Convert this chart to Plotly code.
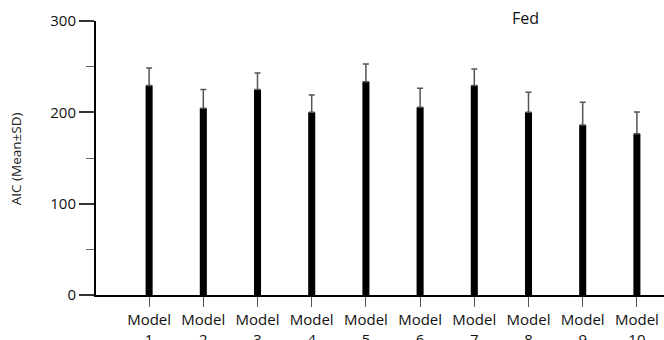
import plotly.graph_objects as go

# AIC (mean ± SD) for each fitted model, fed condition
models = ["Model<br>1", "Model<br>2", "Model<br>3", "Model<br>4", "Model<br>5",
          "Model<br>6", "Model<br>7", "Model<br>8", "Model<br>9", "Model<br>10"]
aic_mean = [229.5, 204.5, 225, 200, 233.5, 205.5, 229.5, 200, 186, 176.5]
aic_sd = [19, 20.5, 18, 19, 19.5, 21, 18, 22, 25, 24]

font_family = "Open Sans, Noto Sans, sans-serif"

fig = go.Figure()
fig.add_trace(go.Bar(
    x=models,
    y=aic_mean,
    width=0.13,
    marker=dict(color="black", line=dict(width=0)),
    # the lower whisker sits inside the black bar, so only the upper one shows
    error_y=dict(type="data", array=aic_sd, arrayminus=[0] * len(aic_sd),
                 symmetric=False, visible=True,
                 color="#555555", thickness=1.5, width=3),
))

fig.update_layout(
    width=664, height=340,
    margin=dict(l=96, r=0, t=21, b=45),
    paper_bgcolor="white", plot_bgcolor="white",
    showlegend=False,
    font=dict(family=font_family, color="#111111"),
    xaxis=dict(
        type="category",
        range=[-0.98, 9.5],
        automargin=False,
        showline=True, linecolor="black", linewidth=2,
        ticks="outside", ticklen=10, tickwidth=1, tickcolor="#555555",
        tickfont=dict(size=15, color="#111111"),
        showgrid=False, zeroline=False,
    ),
    yaxis=dict(
        range=[0, 300],
        automargin=False,
        tickvals=[0, 100, 200, 300],
        showline=True, linecolor="black", linewidth=2,
        ticks="outside", ticklen=15, tickwidth=1.5, tickcolor="#333333",
        minor=dict(tickvals=[50, 150, 250], ticks="outside", ticklen=8,
                   tickwidth=1, tickcolor="#666666"),
        tickfont=dict(size=15, color="#111111"),
        showgrid=False, zeroline=False,
    ),
    annotations=[
        dict(text="Fed", xref="paper", yref="paper",
             x=(525 - 96) / 568, y=1.0, xanchor="center", yanchor="middle",
             yshift=3, showarrow=False,
             font=dict(size=16, color="#111111", family=font_family)),
        dict(text="AIC (Mean±SD)", xref="paper", yref="paper",
             x=(16 - 96) / 568, y=(295 - 159) / 274.5,
             xanchor="center", yanchor="middle", textangle=-90,
             showarrow=False,
             font=dict(size=13.5, color="#222222", family=font_family)),
    ],
)

fig.write_html("out.html")
